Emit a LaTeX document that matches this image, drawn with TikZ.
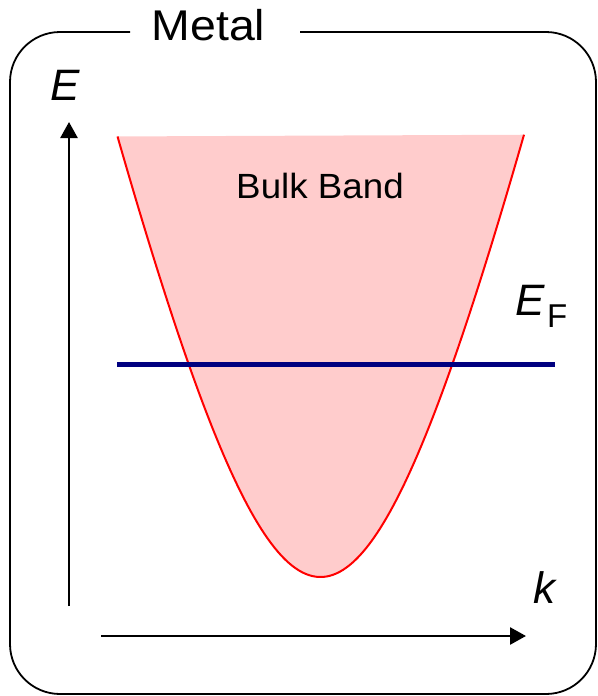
\documentclass[tikz,border=0pt]{standalone}
\usepackage{fontspec}
\setmainfont{Liberation Sans}
\usetikzlibrary{arrows.meta}
\definecolor{bandfill}{RGB}{255,204,204}
\definecolor{fermiblue}{RGB}{0,0,128}
\tikzset{
  framebox/.style={line width=1.8pt, rounded corners=50pt},
  axisarrow/.style={line width=2.6pt, -{Triangle[width=17pt,length=16pt]}},
  bandline/.style={red, line width=2pt},
  fermiline/.style={fermiblue, line width=5pt},
  lbl/.style={inner sep=0pt, outer sep=0pt, text=black},
}
\begin{document}
\begin{tikzpicture}[x=1pt, y=-1pt]
\useasboundingbox (0,0) rectangle (597,696);
% frame with gap for the title
\draw[framebox] (300,32) -- (596,32) -- (596,694) -- (10,694) -- (10,32) -- (130,32);
\node[lbl, anchor=base, font=\fontsize{43}{50}\selectfont, xscale=1.08] (title) at (208.5,40) {Metal};
% band
\fill[bandfill] plot[domain=-203:203.5, samples=120] ({320.5+\x}, {577-677*(sqrt(1+(0.006464*\x)^2)-1)}) -- cycle;
\draw[bandline] plot[domain=-203:203.5, samples=120] ({320.5+\x}, {577-677*(sqrt(1+(0.006464*\x)^2)-1)});
\node[lbl, anchor=base, font=\fontsize{35}{40}\selectfont, xscale=1.05] (bulk) at (320,198) {Bulk Band};
% Fermi level
\coordinate (fl) at (117,364);
\coordinate (fr) at (555,364);
\draw[fermiline] (fl) -- (fr);
\node[lbl, anchor=base west, font=\fontsize{44}{50}\selectfont\itshape] (ef) at (515,315) {E};
\node[lbl, anchor=base west, font=\fontsize{33}{40}\selectfont] (efsub) at (547,327) {F};
% axes
\coordinate (eb) at (69,606);
\coordinate (et) at (69,122);
\coordinate (kl) at (101,636);
\coordinate (kr) at (526,636);
\draw[axisarrow] (eb) -- (et);
\draw[axisarrow] (kl) -- (kr);
\node[lbl, anchor=base west, font=\fontsize{44}{50}\selectfont\itshape] (elab) at (50,100) {E};
\node[lbl, anchor=base west, font=\fontsize{44}{50}\selectfont\itshape] (klab) at (533,603) {k};
\end{tikzpicture}
\end{document}
